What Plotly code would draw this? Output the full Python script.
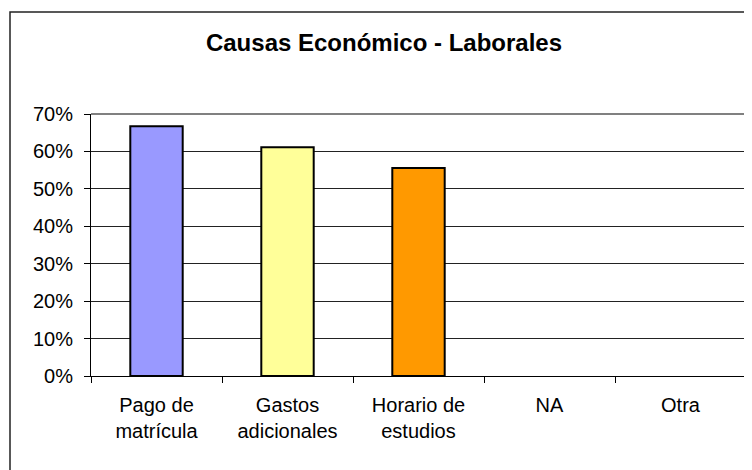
import plotly.graph_objects as go

categories = ["Pago de<br>matrícula", "Gastos<br>adicionales", "Horario de<br>estudios", "NA", "Otra"]
values = [0.667, 0.611, 0.556, 0.0, 0.0]
bar_colors = ["#9999FF", "#FFFF99", "#FF9900", "#993366", "#FFFFCC"]
y_ticks = [0, 0.1, 0.2, 0.3, 0.4, 0.5, 0.6, 0.7]

font_family = "Arial, Liberation Sans, sans-serif"

# page body has an 8px margin, so the figure is drawn 8px right/down
ml, mt = 83, 106
mr, mb = 14, 102
plot_w = 752 - ml - mr
plot_h = 470 - mt - mb

fig = go.Figure()
fig.add_trace(
    go.Bar(
        x=categories,
        y=values,
        width=0.4,
        marker=dict(
            color=bar_colors,
            line=dict(color="black", width=[2 if v > 0 else 0 for v in values]),
        ),
        hoverinfo="x+y",
    )
)

fig.update_layout(
    width=752,
    height=470,
    margin=dict(l=ml, r=mr, t=mt, b=mb),
    paper_bgcolor="white",
    plot_bgcolor="white",
    showlegend=False,
    font=dict(family=font_family, size=20, color="black"),
    title=dict(
        text="<b>Causas Económico - Laborales</b>",
        font=dict(family=font_family, size=24, color="black"),
        x=(384 - 8) / 752, xref="container", xanchor="center",
        y=1 - (43 - 8) / 470, yref="container", yanchor="middle",
    ),
    xaxis=dict(
        showline=True, linecolor="black", linewidth=1,
        ticks="outside", ticklen=6, tickcolor="black",
        tickson="boundaries", showgrid=False,
        ticklabelstandoff=11,
    ),
    yaxis=dict(
        range=[0, 0.7],
        tickvals=y_ticks,
        tickformat=".0%",
        showline=True, linecolor="black", linewidth=1,
        ticks="outside", ticklen=6, tickcolor="black",
        showgrid=True, gridcolor="#222222", gridwidth=1,
        zeroline=False,
        ticklabelstandoff=7,
    ),
    shapes=[
        # plot area border top and right (grey)
        dict(type="line", xref="paper", yref="paper", x0=0, x1=1, y0=1, y1=1,
             line=dict(color="#808080", width=2), layer="above"),
        dict(type="line", xref="paper", yref="paper", x0=1, x1=1, y0=0, y1=1,
             line=dict(color="#808080", width=2), layer="above"),
        # outer chart border, right and bottom edges fall outside the view
        dict(type="rect", xref="paper", yref="paper",
             x0=(2 - ml) / plot_w, x1=(780 - ml) / plot_w,
             y0=(mt + plot_h - 500) / plot_h, y1=(mt + plot_h - 4) / plot_h,
             line=dict(color="#222222", width=1.5), layer="below"),
    ],
)

fig.write_html("out.html")
